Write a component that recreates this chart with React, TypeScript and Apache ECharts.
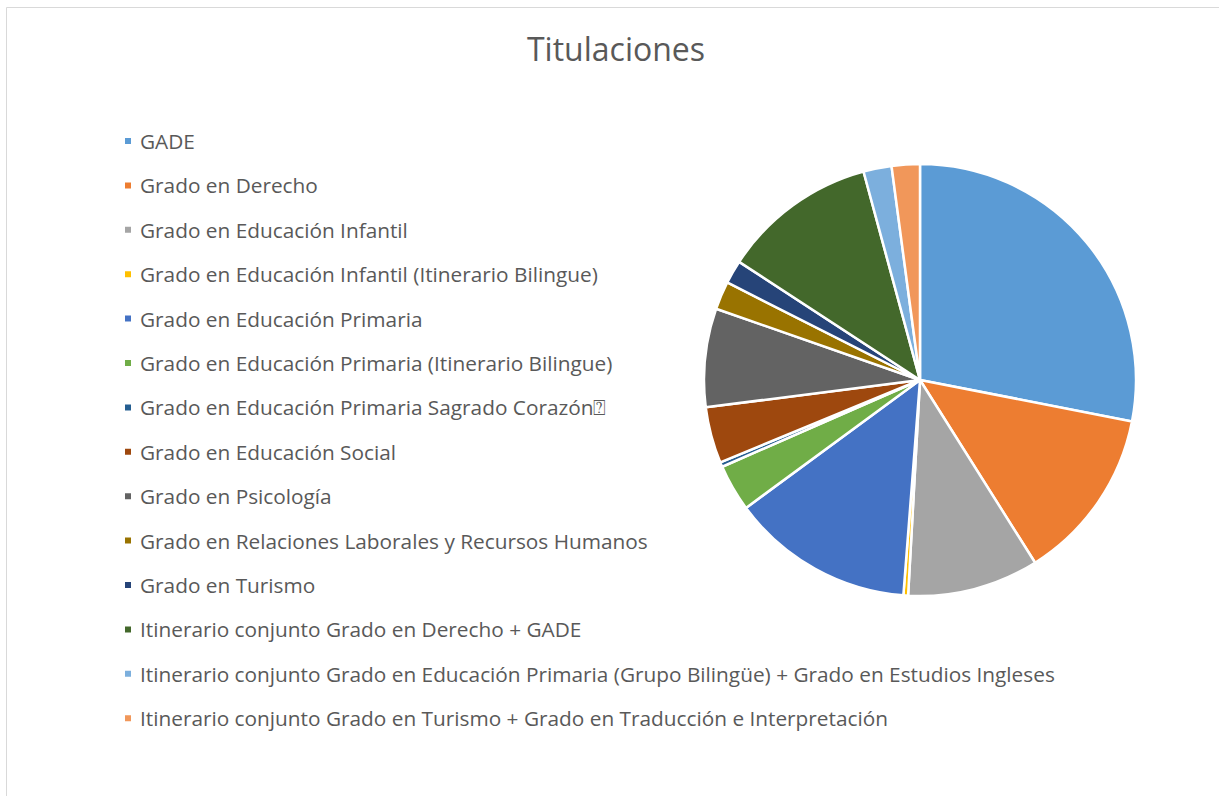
import React, { useEffect, useRef } from "react";
import * as echarts from "echarts";

const categories = [
  "GADE",
  "Grado en Derecho",
  "Grado en Educación Infantil",
  "Grado en Educación Infantil (Itinerario Bilingue)",
  "Grado en Educación Primaria",
  "Grado en Educación Primaria (Itinerario Bilingue)",
  "Grado en Educación Primaria Sagrado Corazón⍰",
  "Grado en Educación Social",
  "Grado en Psicología",
  "Grado en Relaciones Laborales y Recursos Humanos",
  "Grado en Turismo",
  "Itinerario conjunto Grado en Derecho + GADE",
  "Itinerario conjunto Grado en Educación Primaria (Grupo Bilingüe) + Grado en Estudios Ingleses",
  "Itinerario conjunto Grado en Turismo + Grado en Traducción e Interpretación",
];

const values = [80, 37, 28, 1, 39, 10, 1, 12, 21, 6, 5, 33, 6, 6];

const colors = [
  "#5B9BD5", "#ED7D31", "#A5A5A5", "#FFC000", "#4472C4", "#70AD47", "#255E91",
  "#9E480E", "#636363", "#997300", "#264478", "#43682B", "#7CAFDD", "#F1975A",
];

export default function App() {
  const ref = useRef<HTMLDivElement>(null);
  useEffect(() => {
    document.body.style.margin = "0";
    const chart = echarts.init(ref.current!, null, { renderer: "svg" });
    chart.setOption({
      animation: false,
      color: colors,
      title: {
        text: "Titulaciones",
        left: 611,
        textAlign: "center",
        top: 27,
        textStyle: {
          fontFamily: "Open Sans",
          fontSize: 32,
          fontWeight: "normal",
          color: "#595959",
        },
      },
      legend: {
        orient: "vertical",
        left: 118,
        top: 125,
        icon: "rect",
        itemWidth: 8,
        itemHeight: 8,
        itemGap: 22.4,
        data: categories,
        selectedMode: false,
        textStyle: {
          fontFamily: "Open Sans",
          fontSize: 20.8,
          lineHeight: 22,
          color: "#595959",
          padding: [0, 0, 0, 3],
        },
      },
      graphic: [
        { type: "line", shape: { x1: 6.5, y1: 7.5, x2: 1219, y2: 7.5 }, style: { stroke: "#D9D9D9", lineWidth: 1 } },
        { type: "line", shape: { x1: 6.5, y1: 7.5, x2: 6.5, y2: 796 }, style: { stroke: "#D9D9D9", lineWidth: 1 } },
      ],
      series: [
        {
          type: "pie",
          center: [920, 380],
          radius: 216,
          startAngle: 90,
          clockwise: true,
          label: { show: false },
          labelLine: { show: false },
          itemStyle: { borderColor: "#FFFFFF", borderWidth: 2.5 },
          emphasis: { disabled: true },
          data: categories.map((name, i) => ({ name, value: values[i] })),
        },
      ],
    });
    return () => chart.dispose();
  }, []);
  return <div ref={ref} style={{ width: 1219, height: 796 }} />;
}
